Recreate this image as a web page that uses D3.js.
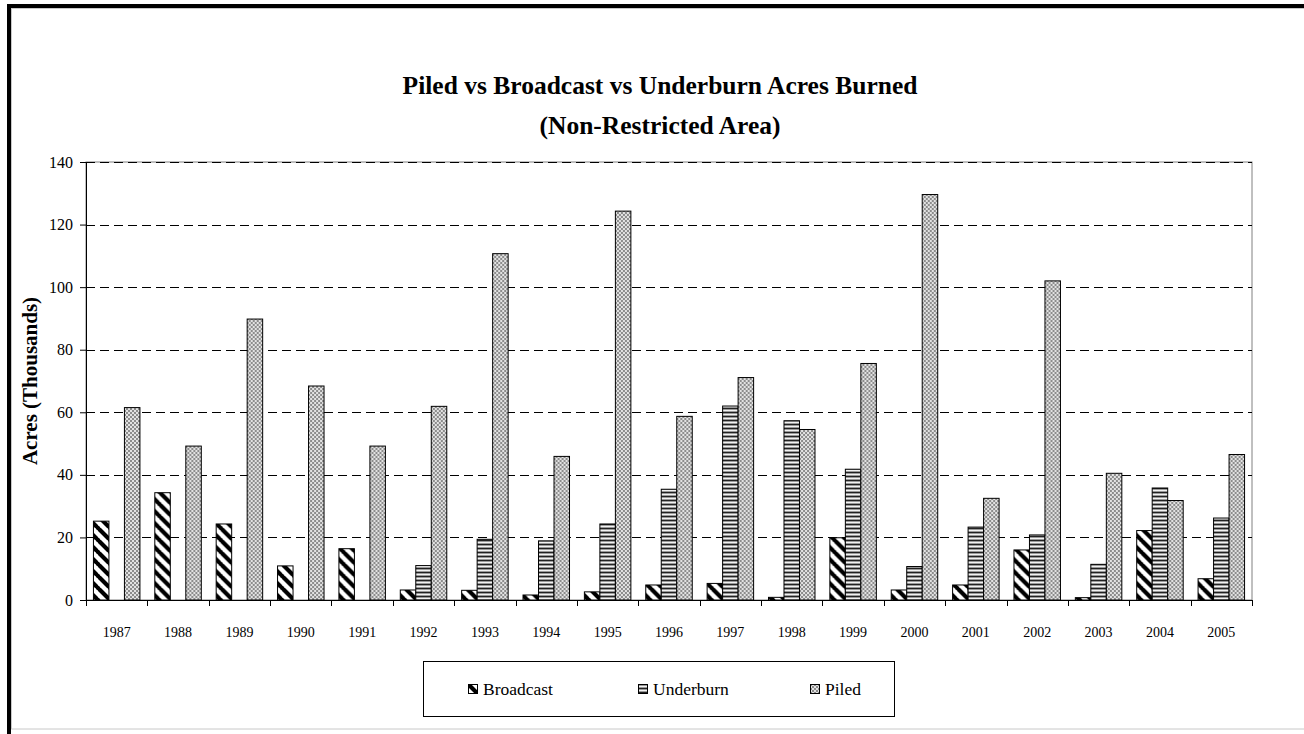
<!DOCTYPE html>
<html>
<head>
<meta charset="utf-8">
<script src="https://cdn.jsdelivr.net/npm/d3@7/dist/d3.min.js"></script>
<style>
  body { margin: 0; background: #fff; }
  svg text { font-family: "Liberation Serif", "Times New Roman", Times, serif; fill: #000; }
</style>
</head>
<body>
<div id="chart"></div>
<script>
// data (thousands of acres)
var years = ["1987","1988","1989","1990","1991","1992","1993","1994","1995","1996",
             "1997","1998","1999","2000","2001","2002","2003","2004","2005"];
var broadcast = [25.2, 34.3, 24.3, 10.9, 16.4, 3.2, 3.1, 1.6, 2.6, 4.8,
                 5.3, 0.85, 19.9, 3.2, 4.8, 16.0, 0.75, 22.2, 6.8];
var underburn = [0, 0, 0, 0, 0, 11.0, 19.4, 18.9, 24.3, 35.4,
                 62.0, 57.3, 41.8, 10.7, 23.3, 20.8, 11.4, 35.8, 26.2];
var piled = [61.5, 49.2, 89.8, 68.4, 49.2, 61.9, 110.7, 45.9, 124.3, 58.7,
             71.1, 54.5, 75.6, 129.6, 32.5, 102.0, 40.5, 31.8, 46.5];
var seriesNames = ["Broadcast", "Underburn", "Piled"];
var yTicks = [0, 20, 40, 60, 80, 100, 120, 140];

var W = 1304, H = 734;
var plot = {left: 86, right: 1252, top: 162, bottom: 600};
var SERIF = "'Liberation Serif', 'Times New Roman', Times, serif";

var svg = d3.select("#chart").append("svg")
    .attr("width", W).attr("height", H)
    .attr("font-family", SERIF);

var defs = svg.append("defs");

// Broadcast: wide black downward diagonal
var pb = defs.append("pattern").attr("id", "pat-Broadcast")
    .attr("patternUnits", "userSpaceOnUse").attr("width", 12).attr("height", 12);
pb.append("rect").attr("width", 12).attr("height", 12).attr("fill", "#fff");
pb.append("path").attr("d", "M-1,-1L13,13M-1,11L1,13M11,-1L13,1")
    .attr("stroke", "#000").attr("stroke-width", 4.2);

// Underburn: horizontal stripes
var pu = defs.append("pattern").attr("id", "pat-Underburn")
    .attr("patternUnits", "userSpaceOnUse").attr("width", 4).attr("height", 4);
[["#222", 0], ["#9a9a9a", 1], ["#f2f2f2", 2], ["#9a9a9a", 3]].forEach(function (r) {
    pu.append("rect").attr("x", 0).attr("y", r[1]).attr("width", 4).attr("height", 1).attr("fill", r[0]);
});

// Piled: small gray checker
var pp = defs.append("pattern").attr("id", "pat-Piled")
    .attr("patternUnits", "userSpaceOnUse").attr("width", 4).attr("height", 4);
pp.append("rect").attr("width", 4).attr("height", 4).attr("fill", "#e2e2e2");
pp.append("rect").attr("width", 2).attr("height", 2).attr("fill", "#8c8c8c");
pp.append("rect").attr("x", 2).attr("y", 2).attr("width", 2).attr("height", 2).attr("fill", "#8c8c8c");

// outer frame
svg.append("rect").attr("x", 9).attr("y", 6).attr("width", W + 20).attr("height", H + 20)
    .attr("fill", "#fff").attr("stroke", "#000").attr("stroke-width", 4);
svg.append("rect").attr("x", 11.5).attr("y", 8.5).attr("width", W + 20).attr("height", 720.5)
    .attr("fill", "none").attr("stroke", "#c8c8c8").attr("stroke-width", 1);

// title
var title = svg.append("text").attr("x", 660).attr("text-anchor", "middle")
    .attr("font-family", SERIF)
    .style("font-weight", "bold").style("font-size", "25.5px");
title.append("tspan").attr("x", 660).attr("y", 94).text("Piled vs Broadcast vs Underburn Acres Burned");
title.append("tspan").attr("x", 660).attr("y", 134).text("(Non-Restricted Area)");

// scales
var x0 = d3.scaleBand().domain(years).range([plot.left, plot.right]).padding(0);
var x1 = d3.scaleBand().domain(seriesNames).range([0, x0.bandwidth()])
    .paddingInner(0).paddingOuter(0.48);
var y = d3.scaleLinear().domain([0, 140]).range([plot.bottom, plot.top]);

// plot area border + gridlines
svg.append("rect").attr("x", plot.left).attr("y", plot.top)
    .attr("width", plot.right - plot.left).attr("height", plot.bottom - plot.top)
    .attr("fill", "none").attr("stroke", "#808080").attr("stroke-width", 1);

svg.append("g").selectAll("line")
    .data(yTicks.filter(function (t) { return t > 0; }))
    .enter().append("line")
    .attr("x1", plot.left).attr("x2", plot.right)
    .attr("y1", function (d) { return Math.round(y(d)) + 0.5; })
    .attr("y2", function (d) { return Math.round(y(d)) + 0.5; })
    .attr("stroke", "#000").attr("stroke-dasharray", "9,5");

// bars
var seriesData = {Broadcast: broadcast, Underburn: underburn, Piled: piled};
var rows = years.map(function (yr, i) {
    return seriesNames.map(function (s) { return {year: yr, key: s, value: seriesData[s][i]}; });
});

svg.append("g").selectAll("g")
    .data(rows)
    .enter().append("g")
    .attr("transform", function (d) { return "translate(" + x0(d[0].year) + ",0)"; })
    .selectAll("rect")
    .data(function (d) { return d.filter(function (v) { return v.value > 0; }); })
    .enter().append("rect")
    .attr("x", function (d) { return x1(d.key); })
    .attr("y", function (d) { return y(d.value); })
    .attr("width", x1.bandwidth())
    .attr("height", function (d) { return y(0) - y(d.value); })
    .attr("fill", function (d) { return "url(#pat-" + d.key + ")"; })
    .attr("stroke", "#000").attr("stroke-width", 1);

// y axis
var yAxis = svg.append("g").attr("transform", "translate(" + plot.left + ",0)")
    .call(d3.axisLeft(y).tickValues(yTicks).tickSize(6).tickPadding(7).tickSizeOuter(0))
    .attr("font-family", SERIF);
yAxis.select(".domain").attr("stroke", "#000");
yAxis.selectAll(".tick line").attr("stroke", "#000");
yAxis.selectAll("text").attr("font-family", SERIF).style("font-size", "16px");

// x axis (labels centred, ticks on category boundaries)
var xAxis = svg.append("g").attr("transform", "translate(0," + plot.bottom + ")")
    .call(d3.axisBottom(x0).tickSize(0).tickPadding(27).tickSizeOuter(0))
    .attr("font-family", SERIF);
xAxis.select(".domain").attr("stroke", "#000");
xAxis.selectAll("text").attr("font-family", SERIF).style("font-size", "14px");

var bounds = years.map(function (d) { return x0(d); }).concat([plot.right]);
xAxis.selectAll(".bound").data(bounds).enter().append("line")
    .attr("class", "bound")
    .attr("x1", function (d) { return Math.round(d) + 0.5; })
    .attr("x2", function (d) { return Math.round(d) + 0.5; })
    .attr("y1", 0).attr("y2", 6)
    .attr("stroke", "#000");

// y label
svg.append("text")
    .attr("transform", "translate(37,381) rotate(-90)")
    .attr("text-anchor", "middle")
    .attr("font-family", SERIF)
    .style("font-weight", "bold").style("font-size", "21px")
    .text("Acres (Thousands)");

// legend
var legend = svg.append("g");
legend.append("rect").attr("x", 423.5).attr("y", 661.5).attr("width", 471).attr("height", 55)
    .attr("fill", "#fff").attr("stroke", "#000").attr("stroke-width", 1);

var legX = [468, 638, 810];
var items = legend.selectAll(".item")
    .data(seriesNames)
    .enter().append("g")
    .attr("class", "item")
    .attr("transform", function (d, i) { return "translate(" + legX[i] + ",684)"; });
items.append("rect").attr("x", 0.5).attr("y", 0.5).attr("width", 9).attr("height", 9)
    .attr("fill", function (d) { return "url(#pat-" + d + ")"; })
    .attr("stroke", "#000");
items.append("text").attr("x", 15).attr("y", 11)
    .attr("font-family", SERIF)
    .style("font-size", "17.5px")
    .text(function (d) { return d; });
</script>
</body>
</html>
